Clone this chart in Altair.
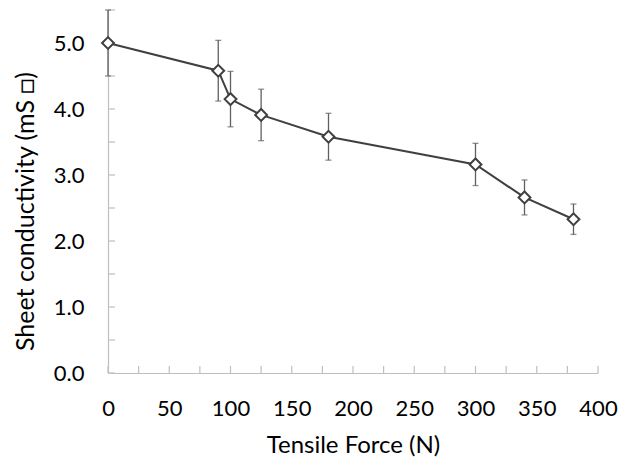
import altair as alt
import pandas as pd

force = [0, 90, 100, 125, 180, 300, 340, 380]
conductivity = [5.0, 4.58, 4.15, 3.91, 3.58, 3.16, 2.66, 2.33]
error = [0.5, 0.46, 0.42, 0.39, 0.355, 0.32, 0.265, 0.23]

x_ticks = list(range(0, 401, 25))
y_ticks = [i * 0.5 for i in range(0, 12)]
x_labels = [0, 50, 100, 150, 200, 250, 300, 350, 400]
y_labels = [0, 1, 2, 3, 4, 5]

df = pd.DataFrame({"force": force, "cond": conductivity, "err": error})
df["lo"] = df["cond"] - df["err"]
df["hi"] = df["cond"] + df["err"]

W, H = 490, 363
FONT = "Lato"

xs = alt.Scale(domain=[0, 400], nice=False, zero=False)
ys = alt.Scale(domain=[0, 5.5], nice=False)

base = alt.Chart(df)

xaxis = alt.Axis(values=x_labels, ticks=False, grid=False, labelFontSize=22, labelFont=FONT,
                 labelColor="#000000", labelPadding=25, title="Tensile Force (N)",
                 titleFont=FONT, titleFontSize=24, titleFontWeight="normal", titleColor="#000000",
                 titlePadding=14, domainColor="#bfbfbf", domainWidth=1.2, labelFlush=False)
yaxis = alt.Axis(values=y_labels, format=".1f", ticks=False, grid=False, labelFontSize=22, labelFont=FONT,
                 labelColor="#000000", labelPadding=24, title="Sheet conductivity (mS \u25a1)",
                 titleFont=FONT, titleFontSize=25, titleFontWeight="normal", titleColor="#000000",
                 titleX=-83, titleY=201, titleAngle=-90, titleAlign="center", titleBaseline="middle",
                 domainColor="#bfbfbf", domainWidth=1.2)

X = lambda f: alt.X(f, scale=xs, axis=xaxis)
Y = lambda f: alt.Y(f, scale=ys, axis=yaxis)

xt = alt.Chart(pd.DataFrame({"t": x_ticks})).mark_rule(color="#bfbfbf", strokeWidth=1.2).encode(
    x=X("t:Q"), y=alt.value(H), y2=alt.value(H - 7))
yt = alt.Chart(pd.DataFrame({"t": y_ticks})).mark_rule(color="#bfbfbf", strokeWidth=1.2).encode(
    y=Y("t:Q"), x=alt.value(0), x2=alt.value(7))

bars = base.mark_rule(color="#606060", strokeWidth=1.3, clip=False).encode(
    x=X("force:Q"), y=Y("lo:Q"), y2="hi:Q")
caps_hi = base.mark_tick(color="#606060", orient="horizontal", size=6, thickness=1.3).encode(
    x=X("force:Q"), y=Y("hi:Q"))
caps_lo = base.mark_tick(color="#606060", orient="horizontal", size=6, thickness=1.3).encode(
    x=X("force:Q"), y=Y("lo:Q"))
line = base.mark_line(color="#404040", strokeWidth=2).encode(
    x=X("force:Q"), y=Y("cond:Q"))
pts = base.mark_point(shape="diamond", size=140, filled=True, fill="white", stroke="#404040",
                      strokeWidth=2, opacity=1).encode(
    x=X("force:Q"), y=Y("cond:Q"))

chart = alt.layer(xt, yt, bars, caps_hi, caps_lo, line, pts).properties(
    width=W, height=H,
    background="white",
    autosize=alt.AutoSizeParams(type="none"),
    padding={"left": 100, "top": 2, "right": 24, "bottom": 85},
).configure_view(strokeWidth=0)

chart.save("out.html", embed_options={"renderer": "svg", "actions": False})
